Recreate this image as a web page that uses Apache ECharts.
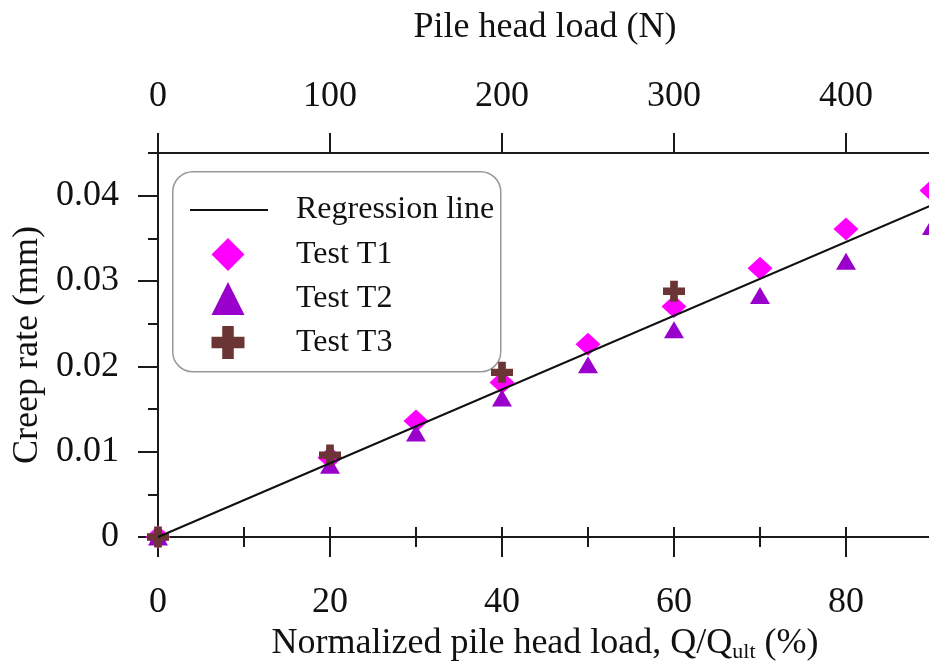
<!DOCTYPE html>
<html>
<head>
<meta charset="utf-8">
<script src="https://cdn.jsdelivr.net/npm/echarts@6/dist/echarts.min.js"></script>
<style>
html,body{margin:0;padding:0;background:#fff;}
#chart{width:929px;height:669px;}
</style>
</head>
<body>
<div id="chart"></div>
<script>
// ---- data ----
var loadPct = [0, 20, 30, 40, 50, 60, 70, 80, 90];
var testT1 = [0, 0.0093, 0.0136, 0.0181, 0.0226, 0.0270, 0.0315, 0.0361, 0.0406];
var testT2 = [0, 0.0084, 0.0122, 0.0163, 0.0202, 0.0243, 0.0283, 0.0323, 0.0364];
var loadPctT3 = [0, 20, 40, 60];
var testT3 = [0, 0.0096, 0.0193, 0.0288];
var regressionX = [0, 90];
var regressionY = [0, 0.0389];

// tick labels
var xTicksBottom = [0, 20, 40, 60, 80];
var xTicksTop = [0, 100, 200, 300, 400];
var yTicks = [0, 0.01, 0.02, 0.03, 0.04];

var FONT = "'Liberation Serif','Times New Roman',serif";
var AX = '#1a1a1a';

function pairs(xs, ys) { return xs.map(function (x, i) { return [x, ys[i]]; }); }

var crossPath = 'path://M6.5,0H13.5V6.5H20V13.5H13.5V20H6.5V13.5H0V6.5H6.5Z';

var chart = echarts.init(document.getElementById('chart'), null, {renderer: 'canvas'});

function baseAxis(extra) {
  var o = {
    type: 'value',
    splitLine: {show: false},
    axisLine: {show: true, onZero: false, lineStyle: {color: AX, width: 2}},
    axisTick: {show: true, inside: false, length: 20, lineStyle: {color: AX, width: 2}},
    axisLabel: {show: false},
    nameTextStyle: {fontFamily: FONT, fontSize: 36, color: '#111'}
  };
  for (var k in extra) o[k] = extra[k];
  return o;
}

var option = {
  backgroundColor: '#fff',
  animation: false,
  grid: {left: 158, top: 153, right: -3, bottom: 132, containLabel: false, outerBoundsMode: 'none'},
  graphic: [{
    type: 'rect', left: 172, top: 171, z: 0,
    shape: {width: 328, height: 200, r: 20},
    style: {fill: '#fff', stroke: '#999', lineWidth: 1.5}
  }],
  legend: [
    {
      data: [{name: 'Regression line', icon: 'rect'}],
      orient: 'vertical', left: 190, top: 194,
      itemWidth: 78, itemHeight: 2, padding: 0,
      textStyle: {fontFamily: FONT, fontSize: 32, color: '#111', padding: [0, 0, 0, 23]}
    },
    {
      data: ['Test T1', 'Test T2', 'Test T3'],
      orient: 'vertical', left: 211.5, top: 238,
      itemWidth: 33, itemHeight: 33, itemGap: 11, padding: 0,
      symbolKeepAspect: true,
      textStyle: {fontFamily: FONT, fontSize: 32, color: '#111', padding: [0, 0, 0, 46.5]}
    }
  ],
  xAxis: [
    baseAxis({
      position: 'bottom', min: 0, max: 90, interval: 20,
      name: 'Normalized pile head load, Q/Q{sub|ult} (%)',
      nameLocation: 'middle', nameGap: 85,
      nameTextStyle: {fontFamily: FONT, fontSize: 36, color: '#111',
        rich: {sub: {fontFamily: FONT, fontSize: 22, color: '#111', padding: [16, 0, 0, 0]}}},
      axisTick: {show: true, inside: false, length: 20, lineStyle: {color: AX, width: 2}, customValues: xTicksBottom},
      axisLabel: {show: true, margin: 48, fontFamily: FONT, fontSize: 36, color: '#111', customValues: xTicksBottom}
    }),
    baseAxis({
      position: 'bottom', min: 0, max: 90, interval: 10,
      axisLine: {show: false},
      axisTick: {show: true, inside: false, length: 10, lineStyle: {color: AX, width: 2}}
    }),
    baseAxis({
      position: 'top', min: 0, max: 450, interval: 100,
      name: 'Pile head load (N)', nameLocation: 'middle', nameGap: 107,
      axisTick: {show: true, inside: false, length: 20, lineStyle: {color: AX, width: 2}, customValues: xTicksTop},
      axisLabel: {show: true, margin: 38, fontFamily: FONT, fontSize: 36, color: '#111', customValues: xTicksTop}
    }),
    baseAxis({
      position: 'top', min: 0, max: 450, interval: 50,
      axisLine: {show: false},
      axisTick: {show: true, inside: false, length: 10, lineStyle: {color: AX, width: 2}}
    })
  ],
  yAxis: [
    baseAxis({
      position: 'left', min: 0, max: 0.045, interval: 0.01,
      name: 'Creep rate (mm)', nameLocation: 'middle', nameGap: 106,
      axisTick: {show: true, inside: false, length: 20, lineStyle: {color: AX, width: 2}, customValues: yTicks},
      axisLabel: {show: true, margin: 39, fontFamily: FONT, fontSize: 36, color: '#111',
        customValues: yTicks,
        formatter: function (v) { return v === 0 ? '0' : (+(+v).toFixed(3)).toString(); }}
    }),
    baseAxis({
      position: 'left', min: 0, max: 0.045, interval: 0.005,
      axisLine: {show: false},
      axisTick: {show: true, inside: false, length: 10, lineStyle: {color: AX, width: 2}}
    })
  ],
  series: [
    {
      name: 'Test T1', type: 'scatter', xAxisIndex: 0, yAxisIndex: 0,
      symbol: 'diamond', symbolSize: [25, 23],
      itemStyle: {color: '#ff00ff', opacity: 1},
      data: pairs(loadPct, testT1), z: 3
    },
    {
      name: 'Test T2', type: 'scatter', xAxisIndex: 0, yAxisIndex: 0,
      symbol: 'triangle', symbolSize: [20, 17],
      itemStyle: {color: '#9900cc', opacity: 1},
      data: pairs(loadPct, testT2), z: 3
    },
    {
      name: 'Test T3', type: 'scatter', xAxisIndex: 0, yAxisIndex: 0,
      symbol: crossPath, symbolSize: [22, 21],
      itemStyle: {color: '#6b3535', opacity: 1},
      data: pairs(loadPctT3, testT3), z: 4
    },
    {
      name: 'Regression line', type: 'line', xAxisIndex: 0, yAxisIndex: 0,
      symbol: 'none', showSymbol: false,
      lineStyle: {color: '#111', width: 2},
      itemStyle: {color: '#111'},
      data: pairs(regressionX, regressionY), z: 5
    }
  ]
};
chart.setOption(option);
</script>
</body>
</html>
